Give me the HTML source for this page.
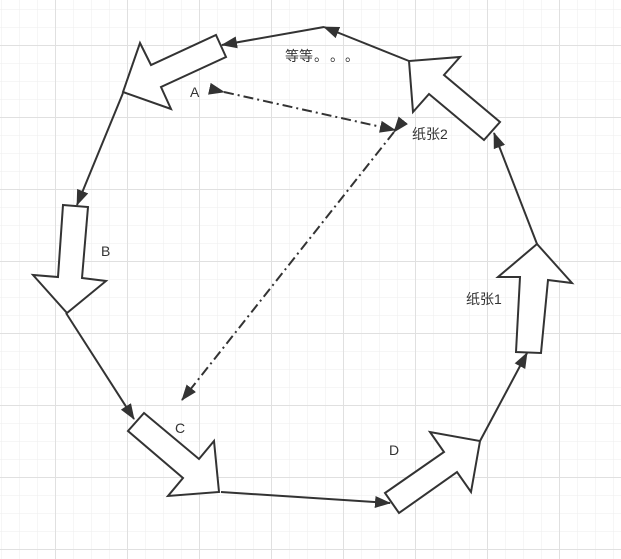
<!DOCTYPE html>
<html><head><meta charset="utf-8"><style>
html,body{margin:0;padding:0;background:#fff;}
svg{display:block;}
text{font-family:"Liberation Sans","Noto Sans CJK SC",sans-serif;font-size:14px;fill:#333;}
</style></head><body>
<svg width="621" height="559" viewBox="0 0 621 559">
<defs>
<pattern id="minor" x="1" y="9" width="18" height="18" patternUnits="userSpaceOnUse"><path d="M0 0H18M0 0V18" stroke="#eeeeee" stroke-width="1" fill="none"/></pattern>
<pattern id="major" x="55" y="45" width="72" height="72" patternUnits="userSpaceOnUse"><path d="M0 0.5H72M0.5 0V72" stroke="#e0e0e0" stroke-width="1" fill="none"/></pattern>
<marker id="ah2" markerWidth="16" markerHeight="16" refX="15" refY="8" orient="auto" markerUnits="userSpaceOnUse" viewBox="0 0 16 16"><path d="M0 2 L16 8 L0 14 Z" fill="#333"/></marker>
</defs>
<rect width="621" height="559" fill="url(#minor)"/>
<rect width="621" height="559" fill="url(#major)"/>
<g fill="#fff" stroke="#333" stroke-width="2" stroke-linejoin="miter">
<polygon points="216,35 226,57 161,87 171,109 123,92 140,43 151,65"/>
<polygon points="63,205 88,207 82,278 106,281 67,313 33,275 58,277"/>
<polygon points="144,413 199,459 214,441 219,492 168,496 183,478 128,431"/>
<polygon points="385,493 444,452 430,432 480,441 471,492 457,472 399,513"/>
<polygon points="516,352 520,277 498,277 537,244 572,283 548,280 541,353"/>
<polygon points="484,140 500,122 444,75 460,57 409,61 413,112 429,94"/>
</g>
<g stroke="#333" stroke-width="2" fill="none">
<line x1="409" y1="61" x2="324" y2="27" marker-end="url(#ah2)"/>
<line x1="324" y1="27" x2="222" y2="45" marker-end="url(#ah2)"/>
<line x1="123" y1="93" x2="77" y2="205" marker-end="url(#ah2)"/>
<line x1="66" y1="313" x2="134" y2="419" marker-end="url(#ah2)"/>
<line x1="221" y1="492" x2="390" y2="503" marker-end="url(#ah2)"/>
<line x1="480" y1="441" x2="527" y2="353" marker-end="url(#ah2)"/>
<line x1="537" y1="244" x2="494" y2="133" marker-end="url(#ah2)"/>
<line x1="224" y1="92" x2="395" y2="130" stroke-dasharray="10,4,2,4" marker-start="url(#ah2)" marker-end="url(#ah2)"/>
<line x1="394" y1="132" x2="182" y2="400" stroke-dasharray="10,4,2,4" marker-start="url(#ah2)" marker-end="url(#ah2)"/>
</g>
<text x="190" y="97">A</text>
<text x="101" y="256">B</text>
<text x="175" y="433">C</text>
<text x="389" y="455">D</text>
<text x="466" y="304">纸张1</text>
<text x="412" y="139">纸张2</text>
<text x="285" y="61">等等<tspan x="314">。</tspan><tspan x="330">。</tspan><tspan x="345">。</tspan></text>
</svg>
</body></html>
